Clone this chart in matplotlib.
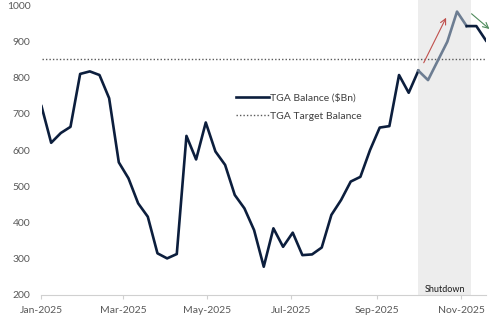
import matplotlib
matplotlib.use("Agg")
import matplotlib.pyplot as plt
import matplotlib.dates as mdates
import pandas as pd

plt.rcParams['font.family'] = ['Lato', 'DejaVu Sans']

# weekly TGA balance, $Bn
dates = pd.date_range('2025-01-01', periods=47, freq='7D')
balance = [721, 620, 647, 664, 810, 817, 807, 743, 566, 522,
           453, 416, 315, 301, 313, 639, 574, 676, 596, 559,
           476, 439, 379, 278, 384, 333, 372, 310, 312, 331,
           421, 462, 513, 526, 600, 662, 666, 807, 758, 819,
           793, 846, 899, 982, 942, 942, 902]
target = 850
shutdown = (pd.Timestamp('2025-10-01'), pd.Timestamp('2025-11-08'))
gray_idx = (39, 44)  # points drawn lighter during the shutdown

fig = plt.figure(figsize=(5, 3.23), dpi=100)
ax = fig.add_axes([0.083, 0.0867, 0.889, 0.9133])

ax.axvspan(shutdown[0], shutdown[1], color='#ededed', lw=0, zorder=0)
ax.text(shutdown[0] + (shutdown[1] - shutdown[0]) / 2, 214, 'Shutdown',
        ha='center', va='center', fontsize=6.5, color='#1a1a1a')

a, b = gray_idx
navy = '#0c1e3d'
ax.plot(dates[:a + 1], balance[:a + 1], color=navy, lw=1.9,
        label='TGA Balance ($Bn)', zorder=3)
ax.plot(dates[a:b + 1], balance[a:b + 1], color='#6d7d92', lw=1.9, zorder=3)
ax.plot(dates[b:], balance[b:], color=navy, lw=1.9, zorder=3)
ax.axhline(target, color='#595959', lw=1.0, ls=(0, (1, 1.5)),
           label='TGA Target Balance', zorder=2)

# trend arrows
ax.annotate('', xy=(pd.Timestamp('2025-10-22'), 972), xytext=(pd.Timestamp('2025-10-04'), 834),
            arrowprops=dict(arrowstyle='->', color='#c0504d', lw=0.8), annotation_clip=False)
ax.annotate('', xy=(pd.Timestamp('2025-11-23'), 929), xytext=(pd.Timestamp('2025-11-07'), 981),
            arrowprops=dict(arrowstyle='->', color='#4f8a5c', lw=0.8), annotation_clip=False)

ax.set_xlim(pd.Timestamp('2025-01-01'), pd.Timestamp('2025-11-19'))
ax.set_ylim(200, 1014)
ax.set_yticks(range(200, 1001, 100))
ax.xaxis.set_major_locator(mdates.MonthLocator(bymonth=[1, 3, 5, 7, 9, 11]))
ax.xaxis.set_major_formatter(mdates.DateFormatter('%b-%Y'))

for s in ['top', 'right', 'left']:
    ax.spines[s].set_visible(False)
ax.spines['bottom'].set_color('#d0d0d0')
ax.tick_params(axis='y', length=0, labelsize=7.5, labelcolor='#595959', pad=8)
ax.tick_params(axis='x', length=3, color='#d0d0d0', labelsize=7.5, labelcolor='#595959', pad=5)

ax.legend(loc='upper left', bbox_to_anchor=(0.462, 0.728), bbox_transform=fig.transFigure,
          frameon=False, fontsize=7.5, handlelength=3.1, handletextpad=0.15,
          labelspacing=0.85, borderpad=0, labelcolor='#404040')

fig.savefig('out.png', dpi=100)
